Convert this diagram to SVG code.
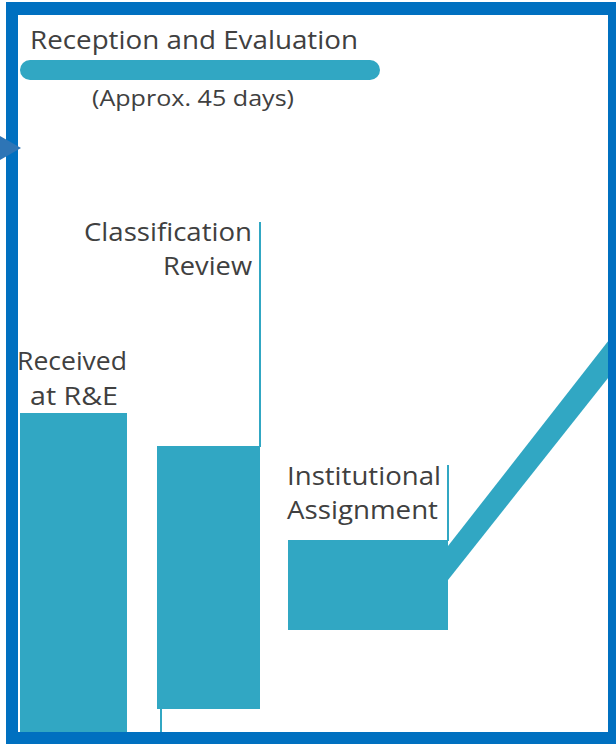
<svg xmlns="http://www.w3.org/2000/svg" width="616" height="744" viewBox="0 0 616 744">
<style>
.lbl{font-family:"Open Sans","Liberation Sans",sans-serif;font-size:25px;fill:#404040}
.sub{font-family:"Open Sans","Liberation Sans",sans-serif;font-size:22px;fill:#404040}
.box{fill:#31A7C3}
.ln{stroke:#31A7C3;stroke-width:2;fill:none}
</style>
<rect width="616" height="744" fill="#ffffff"/>
<g id="header">
<text class="lbl" x="30" y="49" textLength="328" lengthAdjust="spacingAndGlyphs">Reception and Evaluation</text>
<rect x="20" y="60" width="360" height="20" rx="10" class="box"/>
<text class="sub" x="92" y="106" textLength="202" lengthAdjust="spacingAndGlyphs">(Approx. 45 days)</text>
</g>
<g id="connectors">
<line class="ln" x1="260" y1="222" x2="260" y2="447"/>
<line class="ln" x1="161" y1="709" x2="161" y2="734"/>
<line class="ln" x1="448" y1="465" x2="448" y2="541"/>
<polygon class="box" points="448,546 620,326 620,363 448,580"/>
</g>
<g id="received">
<rect class="box" x="20" y="413" width="107" height="320"/>
<text class="lbl" x="17" y="370" textLength="110" lengthAdjust="spacingAndGlyphs">Received</text>
<text class="lbl" x="30" y="405" textLength="88" lengthAdjust="spacingAndGlyphs">at R&amp;E</text>
</g>
<g id="classification">
<rect class="box" x="157" y="446" width="103" height="263"/>
<text class="lbl" x="84" y="241" textLength="168" lengthAdjust="spacingAndGlyphs">Classification</text>
<text class="lbl" x="163" y="275" textLength="89" lengthAdjust="spacingAndGlyphs">Review</text>
</g>
<g id="institutional">
<rect class="box" x="288" y="540" width="160" height="90"/>
<text class="lbl" x="287" y="485" textLength="154" lengthAdjust="spacingAndGlyphs">Institutional</text>
<text class="lbl" x="287" y="519" textLength="151" lengthAdjust="spacingAndGlyphs">Assignment</text>
</g>
<g id="frame">
<path fill="#0070C0" fill-rule="evenodd" d="M6,2H620V750H6Z M18,15V732H608V15Z"/>
<polygon fill="#2E75B6" points="0,136 21,148 0,160"/>
</g>
</svg>
